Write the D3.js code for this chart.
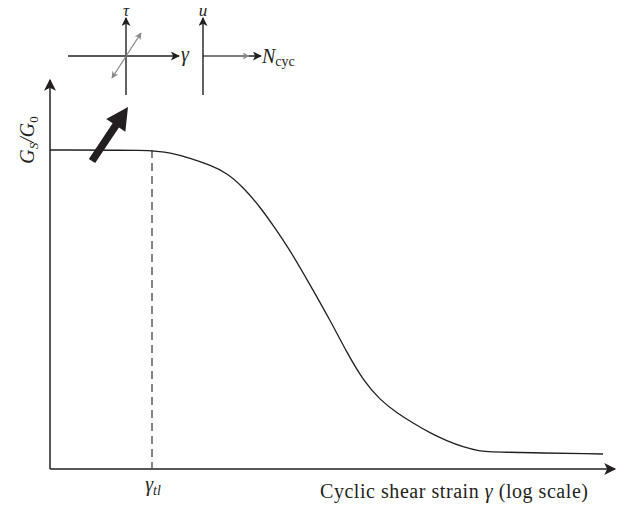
<!DOCTYPE html>
<html><head><meta charset="utf-8">
<script src="https://cdn.jsdelivr.net/npm/d3@7"></script>
<style>body{margin:0;background:#fff}svg{display:block}text{font-family:"Liberation Serif","DejaVu Serif",serif;fill:#231f20}</style>
</head><body><svg id="c" width="624" height="508"></svg>
<script>
const strain = [1e-6, 1e-5, 1.5e-5, 2.36e-5, 3.71e-5, 5.43e-5, 7.8e-5, 1.15e-4, 1.53e-4, 2.25e-4, 3.79e-4, 5.56e-4, 8.17e-4, 1.17e-3, 1.72e-3, 2.52e-3, 3.62e-3, 5.31e-3, 7.8e-3, 1.12e-2, 1.64e-2, 2.06e-2, 0.264];
const ratio  = [1, 1, 0.9915, 0.975, 0.953, 0.928, 0.884, 0.821, 0.765, 0.687, 0.561, 0.467, 0.364, 0.279, 0.216, 0.176, 0.144, 0.113, 0.088, 0.069, 0.056, 0.053, 0.047];
const thresholdStrain = 1e-5;
const xLabel = "Cyclic shear strain ";
const thresholdLabel = ["γ", "tl"];

const svg = d3.select("#c");
const ink = "#231f20";
const x = d3.scaleLog().domain([1e-6, 1e-1]).range([50, 560]);
const y = d3.scaleLinear().domain([0, 1]).range([469, 150]);

const defs = svg.append("defs");
function marker(id, color, w, h) {
  defs.append("marker").attr("id", id).attr("viewBox", "0 0 10 10").attr("refX", 9).attr("refY", 5)
    .attr("markerWidth", w).attr("markerHeight", h).attr("markerUnits", "userSpaceOnUse").attr("orient", "auto-start-reverse")
    .append("path").attr("d", "M0,0 L10,5 L0,10 L2.5,5 Z").attr("fill", color);
}
marker("ab", ink, 17, 12);
marker("as", ink, 12, 9);
marker("ag", "#8a8a8a", 9, 7);

// axes
svg.append("line").attr("x1", x(1e-6)).attr("y1", y(0)).attr("x2", x(1e-6)).attr("y2", 80)
  .attr("stroke", ink).attr("stroke-width", 1.5).attr("marker-end", "url(#ab)");
svg.append("line").attr("x1", x(1e-6)).attr("y1", y(0)).attr("x2", 615).attr("y2", y(0))
  .attr("stroke", ink).attr("stroke-width", 1.5).attr("marker-end", "url(#ab)");

// dashed threshold
svg.append("line").attr("x1", x(thresholdStrain)).attr("x2", x(thresholdStrain))
  .attr("y1", y(1)).attr("y2", y(0)).attr("stroke", "#444").attr("stroke-width", 1.3).attr("stroke-dasharray", "8,5");

// curve
const pts = strain.map((s, i) => [x(s), y(ratio[i])]);
svg.append("path").attr("d", d3.line().curve(d3.curveBasis)(pts))
  .attr("fill", "none").attr("stroke", ink).attr("stroke-width", 1.3);

// labels
const yl = svg.append("text").attr("transform", "translate(34,140) rotate(-90)").attr("text-anchor", "middle")
  .attr("font-size", 20).attr("font-style", "italic");
yl.append("tspan").text("G");
yl.append("tspan").text("S").attr("font-size", 13).attr("dy", 4);
yl.append("tspan").text("/G").attr("dy", -4);
yl.append("tspan").text("0").attr("font-size", 13).attr("dy", 4).attr("font-style", "normal");

const tl = svg.append("text").attr("x", x(thresholdStrain) + 1).attr("y", 491).attr("text-anchor", "middle").attr("font-size", 20).attr("font-style", "italic");
tl.append("tspan").text(thresholdLabel[0]);
tl.append("tspan").text(thresholdLabel[1]).attr("font-size", 14).attr("dy", 4);

const xl = svg.append("text").attr("x", 588).attr("y", 498).attr("text-anchor", "end").attr("font-size", 20).attr("textLength", 268);
xl.append("tspan").text(xLabel);
xl.append("tspan").text("γ").attr("font-style", "italic");
xl.append("tspan").text(" (log scale)");

// fat arrow
const ax0 = 92, ay0 = 161, ax1 = 128, ay1 = 107;
const ang = Math.atan2(ay1 - ay0, ax1 - ax0);
const L = Math.hypot(ax1 - ax0, ay1 - ay0);
const g = svg.append("g").attr("transform", `translate(${ax0},${ay0}) rotate(${ang * 180 / Math.PI})`);
g.append("path").attr("d", `M0,-3.8 L${L - 22},-3.8 L${L - 22},-11.5 L${L},0 L${L - 22},11.5 L${L - 22},3.8 L0,3.8 Z`).attr("fill", ink);

// inset tau-gamma
svg.append("line").attr("x1", 68).attr("y1", 56).attr("x2", 179).attr("y2", 56).attr("stroke", ink).attr("stroke-width", 1.4).attr("marker-end", "url(#as)");
svg.append("line").attr("x1", 126).attr("y1", 95).attr("x2", 126).attr("y2", 18).attr("stroke", ink).attr("stroke-width", 1.4).attr("marker-end", "url(#as)");
svg.append("line").attr("x1", 112).attr("y1", 78).attr("x2", 141).attr("y2", 33).attr("stroke", "#8a8a8a").attr("stroke-width", 1.3)
  .attr("marker-end", "url(#ag)").attr("marker-start", "url(#ag)");
svg.append("text").attr("x", 126).attr("y", 16).attr("text-anchor", "middle").attr("font-size", 17).attr("font-style", "italic").text("τ");
svg.append("text").attr("x", 181).attr("y", 61).attr("font-size", 20).attr("font-style", "italic").text("γ");

// inset u-N
svg.append("line").attr("x1", 203).attr("y1", 95).attr("x2", 203).attr("y2", 18).attr("stroke", ink).attr("stroke-width", 1.4).attr("marker-end", "url(#as)");
svg.append("line").attr("x1", 203).attr("y1", 56).attr("x2", 261).attr("y2", 56).attr("stroke", ink).attr("stroke-width", 1.4).attr("marker-end", "url(#as)");
svg.append("line").attr("x1", 204).attr("y1", 56).attr("x2", 249).attr("y2", 56).attr("stroke", "#8a8a8a").attr("stroke-width", 1.5).attr("marker-end", "url(#ag)");
svg.append("text").attr("x", 203).attr("y", 16).attr("text-anchor", "middle").attr("font-size", 17).attr("font-style", "italic").text("u");
const nt = svg.append("text").attr("x", 262).attr("y", 63).attr("font-size", 20);
nt.append("tspan").text("N").attr("font-style", "italic");
nt.append("tspan").text("cyc").attr("font-size", 14).attr("dy", 3);
</script></body></html>
